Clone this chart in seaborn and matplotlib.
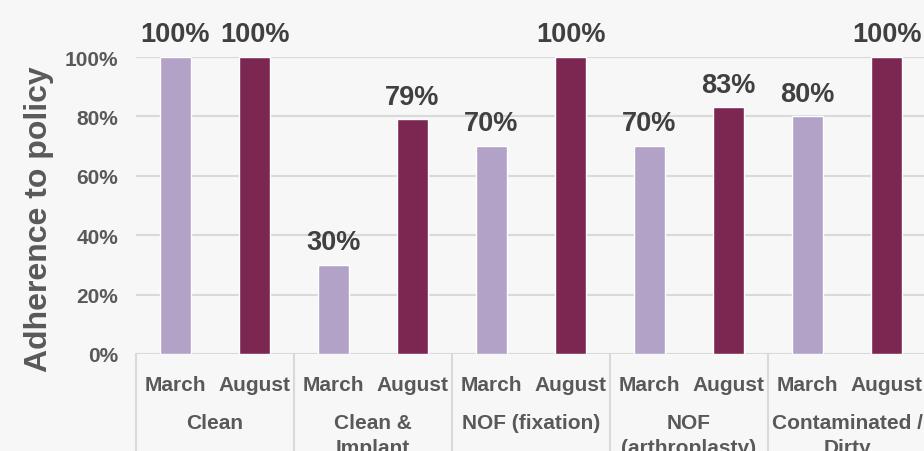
import numpy as np
import pandas as pd
import matplotlib
matplotlib.use("Agg")
import matplotlib.pyplot as plt
import matplotlib.transforms as mtransforms
import seaborn as sns

# data
categories = ["Clean", "Clean &\nImplant", "NOF (fixation)", "NOF\n(arthroplasty)", "Contaminated /\nDirty"]
months = ["March", "August"]
march_vals = [100, 30, 70, 70, 80]
august_vals = [100, 79, 100, 83, 100]

march_color = "#b3a2c8"
august_color = "#7b2752"
bg = "#f7f7f7"
label_grey = "#595959"
value_grey = "#404040"
grid_grey = "#d9d9d9"

df = pd.DataFrame({
    "category": categories * 2,
    "month": [months[0]] * len(categories) + [months[1]] * len(categories),
    "adherence": march_vals + august_vals,
})

sns.set_style("white")
plt.rcParams["font.family"] = ["Liberation Sans", "DejaVu Sans"]
plt.rcParams["font.weight"] = "bold"

fig = plt.figure(figsize=(9.24, 4.52), dpi=100, facecolor=bg)
ax = fig.add_axes([136 / 924, 97 / 452, 790 / 924, 297 / 452])
ax.set_facecolor(bg)

sns.barplot(data=df, x="category", y="adherence", hue="month", order=categories,
            hue_order=months, palette=[march_color, august_color], width=1.0, gap=0.62,
            dodge=True, saturation=1, legend=False, ax=ax, zorder=3)

for cont in ax.containers:
    ax.bar_label(cont, labels=[f"{v:.0f}%" for v in cont.datavalues], padding=7,
                 fontsize=19.5, fontweight="bold", color=value_grey)

ax.set_xlim(-0.5, len(categories) - 0.5)
ax.set_ylim(0, 100)
ax.set_yticks(np.arange(0, 101, 20))
ax.set_yticklabels([f"{t}%" for t in range(0, 101, 20)], fontsize=15, fontweight="bold", color=label_grey)
ax.grid(axis="y", color=grid_grey, lw=1.5, zorder=0)
ax.set_axisbelow(True)
for s in ax.spines.values():
    s.set_visible(False)
ax.tick_params(axis="both", length=0)
ax.tick_params(axis="y", pad=13)

# month labels under each bar
pos = [i + d for i in range(len(categories)) for d in (-0.25, 0.25)]
ax.set_xticks(pos)
ax.set_xticklabels(months * len(categories), fontsize=15, fontweight="bold", color=label_grey)
ax.tick_params(axis="x", pad=15)
ax.set_xlabel("")
ax.set_ylabel("")

# category labels and separators below the axis
trans = mtransforms.blended_transform_factory(ax.transData, ax.transAxes)
for i, cat in enumerate(categories):
    ax.text(i, -0.2, cat, transform=trans, ha="center", va="top", fontsize=15,
            fontweight="bold", color=label_grey, linespacing=1.35, clip_on=False)
for b in np.arange(-0.5, len(categories), 1.0):
    ax.plot([b, b], [0, -0.4], transform=trans, color=grid_grey, lw=1.5, clip_on=False)

fig.text(39 / 924, 1 - 219 / 452, "Adherence to policy", rotation=90, ha="center", va="center",
         fontsize=23, fontweight="bold", color=label_grey)

fig.savefig("out.png", dpi=100, facecolor=bg)
